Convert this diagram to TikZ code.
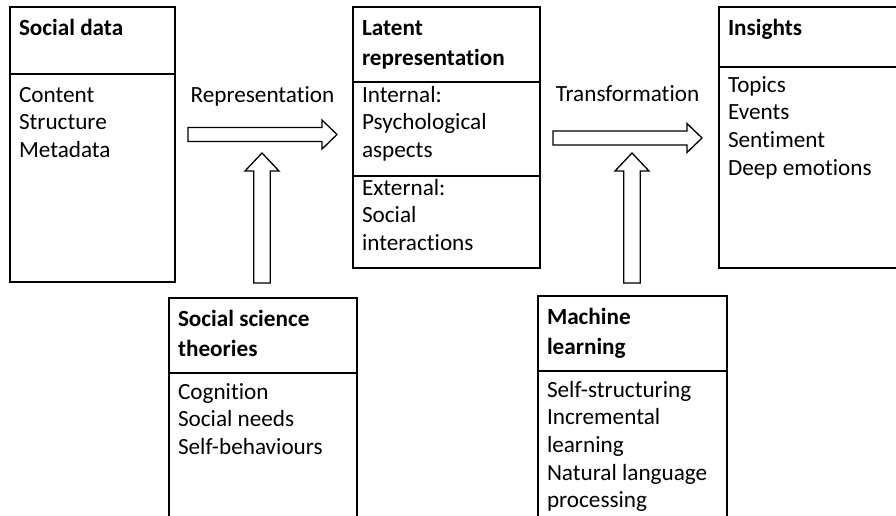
\documentclass[tikz,border=0pt]{standalone}
\usepackage{fontspec}
\setmainfont{Carlito}[Ligatures=NoCommon]
\usetikzlibrary{calc}

% text block of a cell: width, height, first baseline, lines
\newcommand{\cellbox}[4]{\parbox[t][#2pt][t]{#1pt}{\rule{0pt}{#3pt}#4}}
% hollow block arrows from tail to tip
\newcommand{\blockarrowx}[2]{%
  \draw[blockarrow] ($(#1)+(0,7)$) -- ($(#2)+(-15,7)$) -- ($(#2)+(-15,14.5)$)
    -- (#2) -- ($(#2)+(-15,-14.5)$) -- ($(#2)+(-15,-7)$) -- ($(#1)+(0,-7)$) -- cycle;}
\newcommand{\blockarrowy}[2]{%
  \draw[blockarrow] ($(#1)+(-8.3,0)$) -- ($(#2)+(-8.3,18)$) -- ($(#2)+(-17,18)$)
    -- (#2) -- ($(#2)+(17,18)$) -- ($(#2)+(8.3,18)$) -- ($(#1)+(8.3,0)$) -- cycle;}

\begin{document}
\begin{tikzpicture}[
  x=1pt, y=-1pt,
  cell/.style={draw, line width=1.8pt, anchor=north west, inner xsep=9pt,
    inner ysep=0pt, outer sep=0pt},
  head/.style={cell, font=\fontsize{23.2}{30}\selectfont\bfseries},
  body/.style={cell, font=\fontsize{23.2}{27.7}\selectfont},
  lbl/.style={anchor=base, inner sep=0pt, font=\fontsize{23.2}{27.7}\selectfont},
  blockarrow/.style={line width=1.3pt, fill=white}
]
\useasboundingbox (0,0) rectangle (896,515);
\clip (0,0) rectangle (896,515);

% Social data
\node[head] (sdH) at (10,7) {\cellbox{147}{67}{28}{Social data}};
\node[body] (sdB) at (sdH.south west) {\cellbox{147}{208}{28}{Content\\Structure\\Metadata}};

% Latent representation
\node[head] (lrH) at (353,7) {\cellbox{169}{75}{28}{Latent\\representation}};
\node[body] (lrI) at (lrH.south west) {\cellbox{169}{94}{20}{Internal:\\Psychological\\aspects}};
\node[body] (lrE) at (lrI.south west) {\cellbox{169}{92}{19}{External:\\Social\\interactions}};

% Insights
\node[head] (inH) at (719,7) {\cellbox{173}{60}{28}{Insights}};
\node[body] (inB) at (inH.south west) {\cellbox{173}{201}{25}{Topics\\Events\\Sentiment\\Deep emotions}};

% Social science theories
\node[head] (ssH) at (169,298) {\cellbox{170}{75}{28}{Social science\\theories}};
\node[body] (ssB) at (ssH.south west) {\cellbox{170}{250}{26}{Cognition\\Social needs\\Self-behaviours}};

% Machine learning
\node[head] (mlH) at (538,296) {\cellbox{171}{75}{28}{Machine\\learning}};
\node[body] (mlB) at (mlH.south west) {\cellbox{171}{250}{26}{Self-structuring\\Incremental\\learning\\Natural language\\processing}};

% Block arrows
\coordinate (repT) at (188,134.5);
\coordinate (repH) at (337,134.5);
\coordinate (traT) at (553,138);
\coordinate (traH) at (702,138);
\coordinate (sstT) at (262,283);
\coordinate (sstH) at (262,153);
\coordinate (mlT)  at (632,283);
\coordinate (mlH') at (632,153);
\blockarrowx{repT}{repH}
\blockarrowx{traT}{traH}
\blockarrowy{sstT}{sstH}
\blockarrowy{mlT}{mlH'}

\node[lbl] (repL) at (262.5,102) {Representation};
\node[lbl] (traL) at (627.5,101) {Transformation};
\end{tikzpicture}
\end{document}
